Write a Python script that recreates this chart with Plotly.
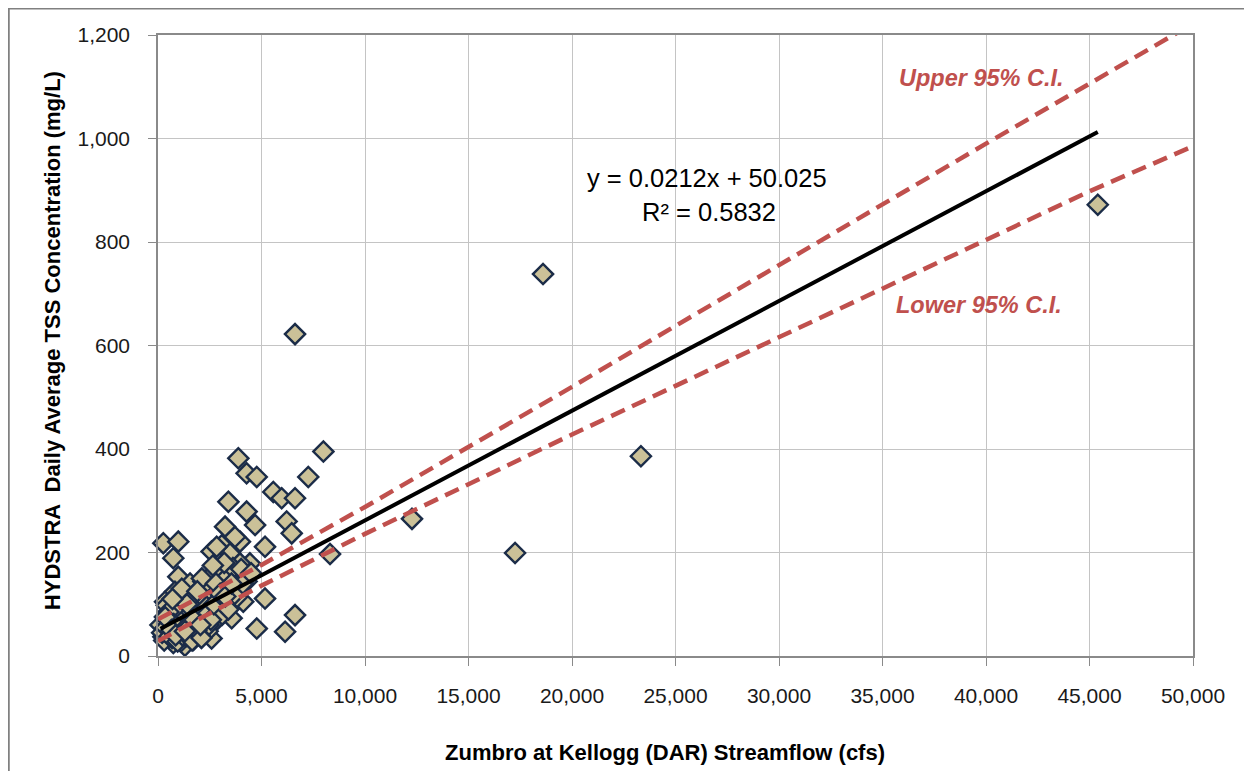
import plotly.graph_objects as go

# ---- data ----
flow_cfs = [
    120, 257, 980, 740, 980, 820, 340, 340, 580, 1140, 1550, 2190, 2590, 3080, 3480, 3960,
    2910, 3560, 4440, 2030, 2670, 3240, 3800, 4280, 3000, 3640, 4120, 1710, 2270, 2840,
    3560, 1390, 2030, 2590, 1060, 1710, 1300, 740, 260, 5170, 4770, 6140, 6620,
    3880, 7990, 4280, 4770, 7260, 5570, 5975, 6620, 3400, 4280, 4690, 6215, 6460, 3240,
    3720, 5170, 8310, 2835, 2510, 2190, 3480, 3960, 3000, 4280, 3960,
    6620, 12270, 17250, 18600, 23330, 45400,
    300, 450, 520, 600, 680, 800, 900, 1000, 1100, 1200, 1350, 1450, 1500, 1620, 1800,
    1950, 2200, 2400, 2600, 2780, 620, 420, 1220, 1480, 1880, 2320, 2480, 2720, 3120,
    3320, 3620, 4020, 3820, 3320, 2940, 2120, 1720, 1260, 880, 1020, 1600, 2450, 3100,
    3400, 2000, 900, 500, 1150, 2800, 3700, 4100, 4500, 3200, 2650, 2350, 1900, 1400, 700,
    200, 380, 560, 760, 950, 1180, 1420, 1650, 1850, 2100, 2300, 2550,
    350, 650, 850, 1300, 1750, 2050, 2700, 3000, 3250, 3550,
]
tss_mgl = [
    60, 218, 221, 189, 153, 124, 105, 76, 41, 86, 140, 144, 202, 214, 198, 221,
    163, 160, 179, 115, 121, 124, 137, 144, 95, 102, 105, 95, 79, 70,
    73, 66, 53, 34, 37, 31, 20, 25, 37, 111, 53, 47, 79,
    382, 395, 353, 346, 346, 317, 305, 305, 298, 279, 253, 260, 237, 250,
    230, 211, 197, 211, 153, 134, 140, 134, 166, 160, 179,
    622, 265, 199, 738, 386, 872,
    30, 45, 60, 55, 35, 48, 62, 45, 28, 52, 38, 72, 52, 44, 62,
    78, 66, 48, 88, 92, 72, 98, 90, 110, 96, 108, 128, 118, 142,
    152, 170, 168, 114, 106, 100, 150, 118, 80, 78, 105, 85, 60, 80,
    90, 40, 95, 85, 130, 140, 120, 140, 160, 180, 175, 95, 125, 100, 110,
    45, 55, 38, 62, 28, 40, 58, 30, 50, 35, 78, 70,
    75, 50, 40, 48, 70, 60, 100, 120, 115, 140,
]

# trendline shown on the chart: y = 0.0212x + 50.025
slope = 0.0212
intercept = 50.025

# 95% confidence bands, read at these flows
ci_flow = [0, 2500, 5000, 10000, 15000, 20000, 25000, 30000, 35000, 40000, 45000, 50000]
ci_upper = [71, 123, 176, 288, 403, 520, 638, 756, 873, 990, 1106, 1222]
ci_lower = [29, 83, 136, 236, 333, 428, 522, 616, 711, 804, 898, 985]

x_ticks = [0, 5000, 10000, 15000, 20000, 25000, 30000, 35000, 40000, 45000, 50000]
y_ticks = [0, 200, 400, 600, 800, 1000, 1200]

trend_x = [min(flow_cfs), max(flow_cfs)]
trend_y = [slope * v + intercept for v in trend_x]

RED = "#C0504D"
FONT = "Liberation Sans, Arial, sans-serif"

fig = go.Figure()
fig.add_trace(go.Scatter(
    x=flow_cfs, y=tss_mgl, mode="markers",
    marker=dict(symbol="diamond", size=15.5, color="#CBC198",
                line=dict(color="#1B2C48", width=2.4)),
    showlegend=False, cliponaxis=False, hoverinfo="x+y"))
fig.add_trace(go.Scatter(
    x=trend_x, y=trend_y, mode="lines",
    line=dict(color="black", width=4), showlegend=False))
fig.add_trace(go.Scatter(
    x=ci_flow, y=ci_upper, mode="lines",
    line=dict(color=RED, width=4.5, dash="15px,8px"), showlegend=False))
fig.add_trace(go.Scatter(
    x=ci_flow, y=ci_lower, mode="lines",
    line=dict(color=RED, width=4.5, dash="15px,8px"), showlegend=False))

axis_common = dict(
    showgrid=True, gridcolor="#C4C4C4", gridwidth=1,
    showline=True, linecolor="#8A8A8A", linewidth=1.5, mirror=True,
    ticks="outside", ticklen=8, tickcolor="#8A8A8A", tickwidth=1,
    zeroline=False,
    tickfont=dict(family=FONT, size=21, color="#1A1A1A"),
)

fig.update_layout(
    width=1244, height=763,
    margin=dict(l=150, r=59, t=27, b=115),
    paper_bgcolor="white", plot_bgcolor="white",
    font=dict(family=FONT),
    xaxis=dict(range=[0, 50000], tickvals=x_ticks, tickformat=",d",
               ticklabelstandoff=12, **axis_common),
    yaxis=dict(range=[0, 1200], tickvals=y_ticks, tickformat=",d",
               ticklabelstandoff=14, **axis_common),
    shapes=[dict(type="rect", xref="paper", yref="paper",
                 x0=-0.1442, x1=1.07, y0=-0.2, y1=1.0425,
                 line=dict(color="#808080", width=2), layer="below")],
    annotations=[
        dict(text="<b>Zumbro at Kellogg (DAR) Streamflow (cfs)</b>",
             xref="paper", yref="paper", x=0.49, y=-0.156,
             xanchor="center", yanchor="middle", showarrow=False,
             font=dict(family=FONT, size=22, color="black")),
        dict(text="<b>HYDSTRA  Daily Average TSS Concentration (mg/L)</b>",
             xref="paper", yref="paper", x=-0.1024, y=0.507, textangle=-90,
             xanchor="center", yanchor="middle", showarrow=False,
             font=dict(family=FONT, size=22, color="black")),
        dict(text="y = 0.0212x + 50.025", x=26520, y=924, xref="x", yref="y",
             showarrow=False, xanchor="center", yanchor="middle",
             font=dict(family=FONT, size=25.5, color="black")),
        dict(text="R² = 0.5832", x=26600, y=858, xref="x", yref="y",
             showarrow=False, xanchor="center", yanchor="middle",
             font=dict(family=FONT, size=25.5, color="black")),
        dict(text="<b><i>Upper 95% C.I.</i></b>", x=39800, y=1117, xref="x", yref="y",
             showarrow=False, xanchor="center", yanchor="middle",
             font=dict(family=FONT, size=23.5, color=RED)),
        dict(text="<b><i>Lower 95% C.I.</i></b>", x=39660, y=678, xref="x", yref="y",
             showarrow=False, xanchor="center", yanchor="middle",
             font=dict(family=FONT, size=23.5, color=RED)),
    ],
)

fig.write_html("out.html")
